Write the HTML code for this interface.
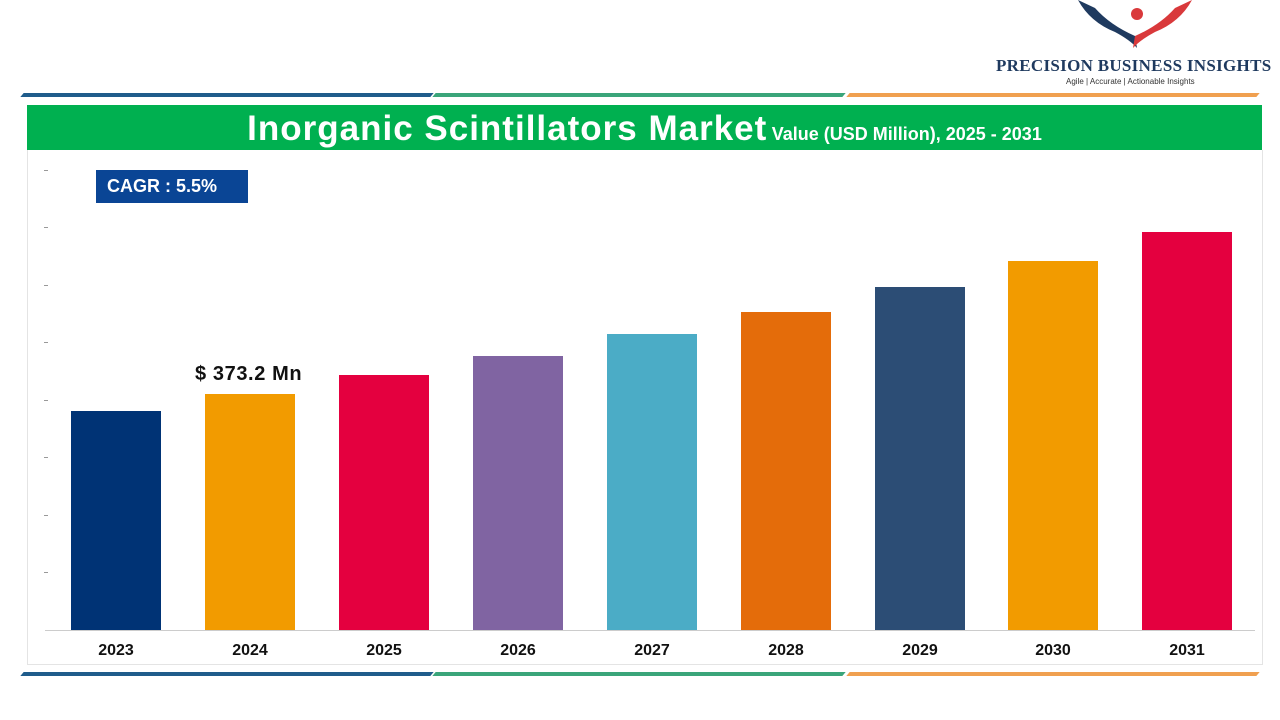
<!DOCTYPE html>
<html><head><meta charset="utf-8"><style>
body{margin:0;width:1280px;height:720px;background:#fff;position:relative;overflow:hidden;font-family:"Liberation Sans",sans-serif}
.a{position:absolute}
.bar{position:absolute;width:90px;bottom:90px}
.yr{position:absolute;top:642px;width:90px;text-align:center;font-weight:bold;font-size:16px;color:#111}
.tk{position:absolute;left:44px;width:4px;height:1px;background:#999}
</style></head><body>
<div class="a" style="left:22px;top:93px;width:410px;height:4px;background:#1f5c8b;transform:skewX(-40deg)"></div>
<div class="a" style="left:434px;top:93px;width:410px;height:4px;background:#3aa57a;transform:skewX(-40deg)"></div>
<div class="a" style="left:848px;top:93px;width:410px;height:4px;background:#f0a050;transform:skewX(-40deg)"></div>
<div class="a" style="left:22px;top:672px;width:410px;height:4px;background:#1f5c8b;transform:skewX(-40deg)"></div>
<div class="a" style="left:434px;top:672px;width:410px;height:4px;background:#3aa57a;transform:skewX(-40deg)"></div>
<div class="a" style="left:848px;top:672px;width:410px;height:4px;background:#f0a050;transform:skewX(-40deg)"></div>
<svg class="a" style="left:1075px;top:0" width="120" height="52" viewBox="0 0 120 52">
<path d="M3 0 Q15 22 40 32 Q55 40 62 48 L60 36 Q35 25 20 8 Z" fill="#1f3a5f"/>
<path d="M117 0 Q105 22 80 32 Q65 40 58 48 L60 36 Q85 25 100 8 Z" fill="#d9393b"/>
<circle cx="62" cy="14" r="6" fill="#d9393b"/>
</svg>
<div class="a" style="left:996px;top:56px;width:280px;font-family:'Liberation Serif',serif;font-weight:bold;font-size:17px;color:#1f3a5f;letter-spacing:0.3px">PRECISION BUSINESS INSIGHTS</div>
<div class="a" style="left:1066px;top:77px;font-size:8px;color:#333">Agile | Accurate | Actionable Insights</div>
<div class="a" style="left:27px;top:105px;width:1235px;height:45px;background:#00b050;text-align:center;color:#fff;line-height:48px;white-space:nowrap"><span style="font-size:35px;font-weight:bold;letter-spacing:1px">Inorganic Scintillators Market</span> <span style="font-size:18px;font-weight:bold">Value (USD Million), 2025 - 2031</span></div>
<div class="a" style="left:27px;top:150px;width:1234px;height:514px;border:1px solid #e4e4e4;border-top:none"></div>
<div class="a" style="left:96px;top:170px;width:152px;height:33px;background:#0a4595;color:#fff;font-weight:bold;font-size:18px;line-height:33px;text-indent:11px">CAGR : 5.5%</div>
<div class="tk" style="top:170px"></div><div class="tk" style="top:227px"></div><div class="tk" style="top:285px"></div><div class="tk" style="top:342px"></div><div class="tk" style="top:400px"></div><div class="tk" style="top:457px"></div><div class="tk" style="top:515px"></div><div class="tk" style="top:572px"></div>
<div class="a" style="left:45px;top:630px;width:1210px;height:1px;background:#ccc"></div>
<div class="bar" style="left:71px;height:219px;background:#003375"></div>
<div class="bar" style="left:205px;height:236px;background:#f29b00"></div>
<div class="bar" style="left:339px;height:255px;background:#e4003f"></div>
<div class="bar" style="left:473px;height:274px;background:#8064a2"></div>
<div class="bar" style="left:607px;height:296px;background:#4bacc6"></div>
<div class="bar" style="left:741px;height:318px;background:#e46c0a"></div>
<div class="bar" style="left:875px;height:343px;background:#2c4d75"></div>
<div class="bar" style="left:1008px;height:369px;background:#f29b00"></div>
<div class="bar" style="left:1142px;height:398px;background:#e4003f"></div>
<div class="a" style="left:195px;top:363px;font-weight:bold;font-size:20px;color:#111;letter-spacing:0.6px">$ 373.2 Mn</div>
<div class="yr" style="left:71px">2023</div><div class="yr" style="left:205px">2024</div><div class="yr" style="left:339px">2025</div><div class="yr" style="left:473px">2026</div><div class="yr" style="left:607px">2027</div><div class="yr" style="left:741px">2028</div><div class="yr" style="left:875px">2029</div><div class="yr" style="left:1008px">2030</div><div class="yr" style="left:1142px">2031</div>
</body></html>
